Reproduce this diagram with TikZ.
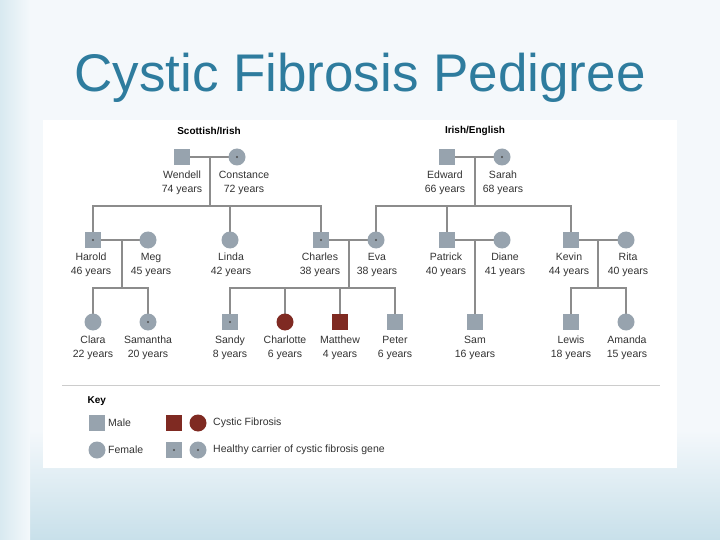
\documentclass[tikz,border=0pt]{standalone}
\usepackage{fontspec}
\setmainfont{Liberation Sans}
\begin{document}
\begin{tikzpicture}[x=1pt,y=-1pt,
  m/.style={draw=none,fill=symg,minimum size=16pt,inner sep=0pt},
  f/.style={circle,draw=none,fill=symg,minimum size=17pt,inner sep=0pt},
  cf/.style={fill=cfred},
  lbl/.style={font=\fontsize{10.5}{13.5}\selectfont,text=black!80,align=center,inner sep=0pt},
  ln/.style={draw=lineg,line width=1.1pt},
  car/.style={path picture={\fill[black!70] (path picture bounding box.center) circle (1.2pt);}}]
\definecolor{symg}{HTML}{97A3AE}
\definecolor{cfred}{HTML}{7F2A22}
\definecolor{lineg}{HTML}{8C8C8C}
\definecolor{titlec}{HTML}{2E7C9E}
\definecolor{bgb}{HTML}{C8E0EA}
\definecolor{bgl}{HTML}{F4F8FB}
\useasboundingbox (0,0) rectangle (720,540);
\fill[bgl] (0,0) rectangle (720,540);
\shade[top color=bgl,bottom color=bgb] (0,430) rectangle (720,540);
\shade[left color=bgb!70,right color=bgl] (0,0) rectangle (30,540);
\node[text=titlec,font=\fontsize{53}{56}\selectfont] (title) at (360,78) {Cystic Fibrosis Pedigree};
\fill[white] (43,120) rectangle (677,468);
\node[font=\bfseries\fontsize{10}{12}\selectfont] (h1) at (209,131) {Scottish/Irish};
\node[font=\bfseries\fontsize{10}{12}\selectfont] (h2) at (475,131) {Irish/English};
% coordinates
\coordinate (d1) at (210,157); \coordinate (d1b) at (210,206);
\coordinate (d2) at (475,157); \coordinate (d2b) at (475,206);
\coordinate (d3) at (122,240); \coordinate (d3b) at (122,288);
\coordinate (d4) at (349,240); \coordinate (d4b) at (349,288);
\coordinate (d5) at (475,240);
\coordinate (d6) at (598,240); \coordinate (d6b) at (598,288);
% lines
\draw[ln] (182,157) -- (237,157) (d1) -- (d1b);
\draw[ln] (93,240) |- (d1b) -| (230,240) (d1b) -| (321,240);
\draw[ln] (447,157) -- (502,157) (d2) -- (d2b);
\draw[ln] (376,240) |- (d2b) -| (571,240) (447,240) -- (447,206);
\draw[ln] (93,240) -- (148,240) (d3) -- (d3b);
\draw[ln] (93,322) |- (d3b) -| (148,322);
\draw[ln] (321,240) -- (376,240) (d4) -- (d4b);
\draw[ln] (230,322) |- (d4b) -| (395,322) (285,288) -- (285,322) (340,288) -- (340,322);
\draw[ln] (447,240) -- (502,240) (d5) -- (475,322);
\draw[ln] (571,240) -- (626,240) (d6) -- (d6b);
\draw[ln] (571,322) |- (d6b) -| (626,322);
% generation 1
\node[m] (wendell) at (182,157) {}; \node[f,car] (constance) at (237,157) {};
\node[m] (edward) at (447,157) {}; \node[f,car] (sarah) at (502,157) {};
% generation 2
\node[m,car] (harold) at (93,240) {}; \node[f] (meg) at (148,240) {};
\node[f] (linda) at (230,240) {};
\node[m,car] (charles) at (321,240) {}; \node[f,car] (eva) at (376,240) {};
\node[m] (patrick) at (447,240) {}; \node[f] (diane) at (502,240) {};
\node[m] (kevin) at (571,240) {}; \node[f] (rita) at (626,240) {};
% generation 3
\node[f] (clara) at (93,322) {}; \node[f,car] (samantha) at (148,322) {};
\node[m,car] (sandy) at (230,322) {}; \node[f,cf] (charlotte) at (285,322) {};
\node[m,cf] (matthew) at (340,322) {}; \node[m] (peter) at (395,322) {};
\node[m] (sam) at (475,322) {};
\node[m] (lewis) at (571,322) {}; \node[f] (amanda) at (626,322) {};
% labels
\foreach \n/\x/\y/\t in {wendell/182/183/{Wendell\\74 years},constance/244/183/{Constance\\72 years},
  edward/445/183/{Edward\\66 years},sarah/503/183/{Sarah\\68 years},
  harold/91/265/{Harold\\46 years},meg/151/265/{Meg\\45 years},linda/231/265/{Linda\\42 years},
  charles/320/265/{Charles\\38 years},eva/377/265/{Eva\\38 years},patrick/446/265/{Patrick\\40 years},
  diane/505/265/{Diane\\41 years},kevin/569/265/{Kevin\\44 years},rita/628/265/{Rita\\40 years},
  clara/93/348/{Clara\\22 years},samantha/148/348/{Samantha\\20 years},sandy/230/348/{Sandy\\8 years},
  charlotte/285/348/{Charlotte\\6 years},matthew/340/348/{Matthew\\4 years},peter/395/348/{Peter\\6 years},
  sam/475/348/{Sam\\16 years},lewis/571/348/{Lewis\\18 years},amanda/627/348/{Amanda\\15 years}}
  \node[lbl] (\n-l) at (\x,\y) {\t};
% separator and key
\coordinate (s1) at (62,385); \coordinate (s2) at (660,385);
\draw[black!20,line width=0.8pt] (s1) -- (s2);
\node[font=\bfseries\fontsize{10}{12}\selectfont,anchor=west] (key) at (84,401) {Key};
\node[m] (kmale) at (97,423) {}; \node[lbl,anchor=west] (kmale-l) at (108,423) {Male};
\node[f] (kfem) at (97,450) {}; \node[lbl,anchor=west] (kfem-l) at (108,450) {Female};
\node[m,cf] (kcfm) at (174,423) {}; \node[f,cf] (kcff) at (198,423) {};
\node[lbl,anchor=west] (kcf-l) at (213,423) {Cystic Fibrosis};
\node[m,car] (kcm) at (174,450) {}; \node[f,car] (kcf) at (198,450) {};
\node[lbl,anchor=west] (kc-l) at (213,450) {Healthy carrier of cystic fibrosis gene};
\end{tikzpicture}
\end{document}
